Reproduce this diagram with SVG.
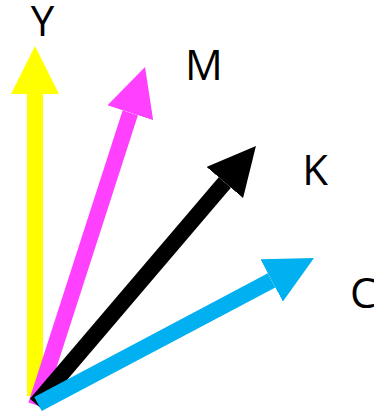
<svg xmlns="http://www.w3.org/2000/svg" width="374" height="412" viewBox="0 0 374 412">
<style>
.ax{stroke-width:16;fill:none;stroke-linecap:butt}
.lbl{font-family:"Open Sans","Liberation Sans",sans-serif;font-size:42px;fill:#000}
</style>
<defs>
<marker id="hy" markerUnits="userSpaceOnUse" markerWidth="48" markerHeight="48" viewBox="0 0 48 48" refX="0" refY="24" orient="auto"><path d="M0,0 L48,24 L0,48 z" fill="#FFFF00"/></marker>
<marker id="hm" markerUnits="userSpaceOnUse" markerWidth="48" markerHeight="48" viewBox="0 0 48 48" refX="0" refY="24" orient="auto"><path d="M0,0 L48,24 L0,48 z" fill="#FF40FF"/></marker>
<marker id="hk" markerUnits="userSpaceOnUse" markerWidth="48" markerHeight="48" viewBox="0 0 48 48" refX="0" refY="24" orient="auto"><path d="M0,0 L48,24 L0,48 z" fill="#000000"/></marker>
<marker id="hc" markerUnits="userSpaceOnUse" markerWidth="48" markerHeight="48" viewBox="0 0 48 48" refX="0" refY="24" orient="auto"><path d="M0,0 L48,24 L0,48 z" fill="#00B0F0"/></marker>
</defs>
<g id="connectors">
<line id="axis-y" class="ax" x1="35" y1="396" x2="35" y2="94" stroke="#FFFF00" marker-end="url(#hy)"/>
<line id="axis-m" class="ax" x1="36" y1="405" x2="130.3" y2="112.7" stroke="#FF40FF" marker-end="url(#hm)"/>
<line id="axis-k" class="ax" x1="36" y1="404" x2="224.8" y2="182.5" stroke="#000000" marker-end="url(#hk)"/>
<line id="axis-c" class="ax" x1="38" y1="404" x2="271.6" y2="280.4" stroke="#00B0F0" marker-end="url(#hc)"/>
</g>
<g id="label-y"><text class="lbl" x="42.5" y="36" text-anchor="middle">Y</text></g>
<g id="label-m"><text class="lbl" x="204" y="80" text-anchor="middle">M</text></g>
<g id="label-k"><text class="lbl" x="315" y="185" text-anchor="middle">K</text></g>
<g id="label-c"><text class="lbl" x="350" y="308">C</text></g>
</svg>
